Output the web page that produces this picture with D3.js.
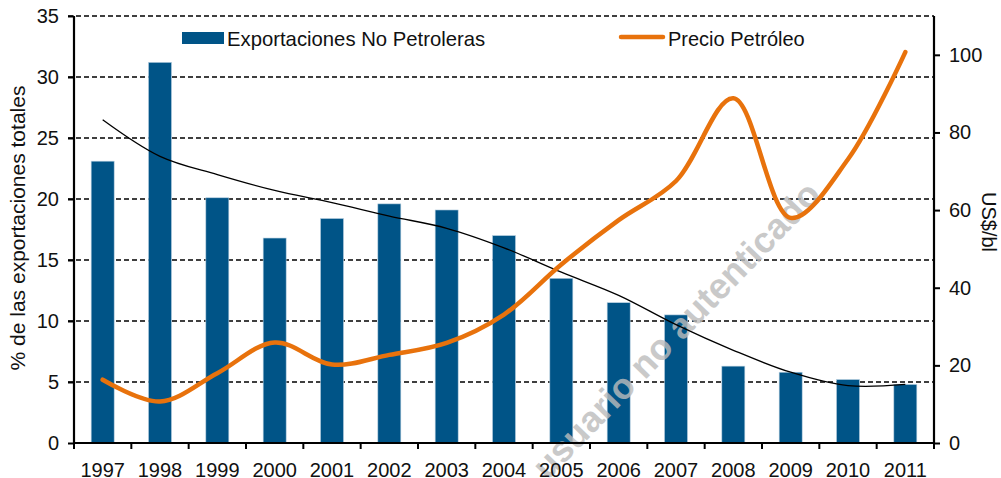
<!DOCTYPE html>
<html>
<head>
<meta charset="utf-8">
<script src="https://cdn.jsdelivr.net/npm/d3@7"></script>
<style>
  body { margin: 0; background: #fff; }
  text { font-family: "Liberation Sans", Arial, sans-serif; fill: #111; }
</style>
</head>
<body>
<svg id="chart"></svg>
<script>
var years = ["1997","1998","1999","2000","2001","2002","2003","2004","2005","2006","2007","2008","2009","2010","2011"];
var exportsNoOil = [23.1, 31.2, 20.1, 16.8, 18.4, 19.6, 19.1, 17.0, 13.5, 11.5, 10.5, 6.3, 5.8, 5.2, 4.8];
var oilPrice = [16.3, 10.7, 18.0, 25.9, 20.2, 22.7, 25.8, 33.1, 46.0, 57.4, 67.5, 88.8, 58.0, 73.1, 100.7];
var trend = [26.5, 23.5, 22.0, 20.7, 19.7, 18.6, 17.6, 16.0, 14.0, 12.1, 9.7, 7.6, 5.8, 4.7, 4.8];
var leftTicks = [0, 5, 10, 15, 20, 25, 30, 35];
var rightTicks = [0, 20, 40, 60, 80, 100];

var w = 1001, h = 478;
var mLeft = 74, mRight = 934, mTop = 16, mBottom = 443;

var svg = d3.select("#chart").attr("width", w).attr("height", h);

var x = d3.scaleBand().domain(years).range([mLeft, mRight]);
var yL = d3.scaleLinear().domain([0, 35]).range([mBottom, mTop]);
var yR = d3.scaleLinear().domain([0, 110]).range([mBottom, mTop]);

// dashed grid
svg.append("g").selectAll("line")
    .data(leftTicks.filter(function(d) { return d > 0 }))
    .enter().append("line")
    .attr("x1", mLeft - 6).attr("x2", mRight)
    .attr("y1", function(d) { return yL(d) })
    .attr("y2", function(d) { return yL(d) })
    .attr("stroke", "#000").attr("stroke-width", 1.3)
    .attr("stroke-dasharray", "5,3");

// bars
var bw = 23;
svg.append("g").selectAll("rect")
    .data(exportsNoOil)
    .enter().append("rect")
    .attr("x", function(d, i) { return x(years[i]) + x.bandwidth() / 2 - bw / 2 })
    .attr("y", function(d) { return yL(d) })
    .attr("width", bw)
    .attr("height", function(d) { return mBottom - yL(d) })
    .attr("fill", "#005487")
    .attr("stroke", "#b7cfe0").attr("stroke-width", 0.6);

// watermark
svg.append("text")
    .attr("transform", "translate(676,330) rotate(-46)")
    .attr("text-anchor", "middle")
    .attr("dominant-baseline", "central")
    .style("font-size", "36px").style("font-weight", "bold")
    .style("fill", "#bcbcbc").style("opacity", 0.8)
    .text("usuario no autenticado");

// trend line
var trendLine = d3.line()
    .x(function(d, i) { return x(years[i]) + x.bandwidth() / 2 })
    .y(function(d) { return yL(d) })
    .curve(d3.curveCatmullRom);
svg.append("path").datum(trend)
    .attr("d", trendLine)
    .attr("fill", "none").attr("stroke", "#000").attr("stroke-width", 1.3);

// oil price line
var oilLine = d3.line()
    .x(function(d, i) { return x(years[i]) + x.bandwidth() / 2 })
    .y(function(d) { return yR(d) })
    .curve(d3.curveCatmullRom.alpha(0.5));
svg.append("path").datum(oilPrice)
    .attr("d", oilLine)
    .attr("fill", "none").attr("stroke", "#e8720c").attr("stroke-width", 4.5)
    .attr("stroke-linecap", "round");

// axes
var axL = svg.append("g").attr("transform", "translate(" + mLeft + ",0)")
    .call(d3.axisLeft(yL).tickValues(leftTicks).tickSize(6).tickPadding(9));
var axR = svg.append("g").attr("transform", "translate(" + mRight + ",0)")
    .call(d3.axisRight(yR).tickValues(rightTicks).tickSize(6).tickPadding(9));
var axB = svg.append("g").attr("transform", "translate(0," + mBottom + ")")
    .call(d3.axisBottom(x).tickSize(0).tickPadding(20));

[axL, axR, axB].forEach(function(a) {
    a.select(".domain").attr("stroke", "#000").attr("stroke-width", 2.2);
    a.selectAll(".tick line").attr("stroke", "#000").attr("stroke-width", 2);
    a.selectAll("text").style("font-size", "20px").style("fill", "#111")
        .attr("font-family", null);
});
axL.select(".domain").attr("d", "M0," + mBottom + "V" + mTop);
axR.select(".domain").attr("d", "M0," + mBottom + "V" + mTop);
axB.select(".domain").attr("d", "M" + mLeft + ",0H" + mRight);

// bottom boundary ticks
axB.append("g").selectAll("line")
    .data(d3.range(years.length + 1))
    .enter().append("line")
    .attr("x1", function(i) { return mLeft + i * x.step() })
    .attr("x2", function(i) { return mLeft + i * x.step() })
    .attr("y1", 0).attr("y2", 6)
    .attr("stroke", "#000").attr("stroke-width", 2);

// axis titles
svg.append("text")
    .attr("transform", "translate(25,228) rotate(-90)")
    .attr("text-anchor", "middle")
    .style("font-size", "21px")
    .text("% de las exportaciones totales");
svg.append("text")
    .attr("transform", "translate(982,222) rotate(90)")
    .attr("text-anchor", "middle")
    .style("font-size", "20px")
    .text("US$/bl");

// legend
svg.append("rect").attr("x", 182).attr("y", 32).attr("width", 42).attr("height", 12)
    .attr("fill", "#005487");
svg.append("text").attr("x", 227).attr("y", 46).style("font-size", "20.3px")
    .text("Exportaciones No Petroleras");
svg.append("line").attr("x1", 621).attr("x2", 663).attr("y1", 37).attr("y2", 37)
    .attr("stroke", "#e8720c").attr("stroke-width", 4.5).attr("stroke-linecap", "round");
svg.append("text").attr("x", 668).attr("y", 46).style("font-size", "20px")
    .text("Precio Petróleo");
</script>
</body>
</html>
